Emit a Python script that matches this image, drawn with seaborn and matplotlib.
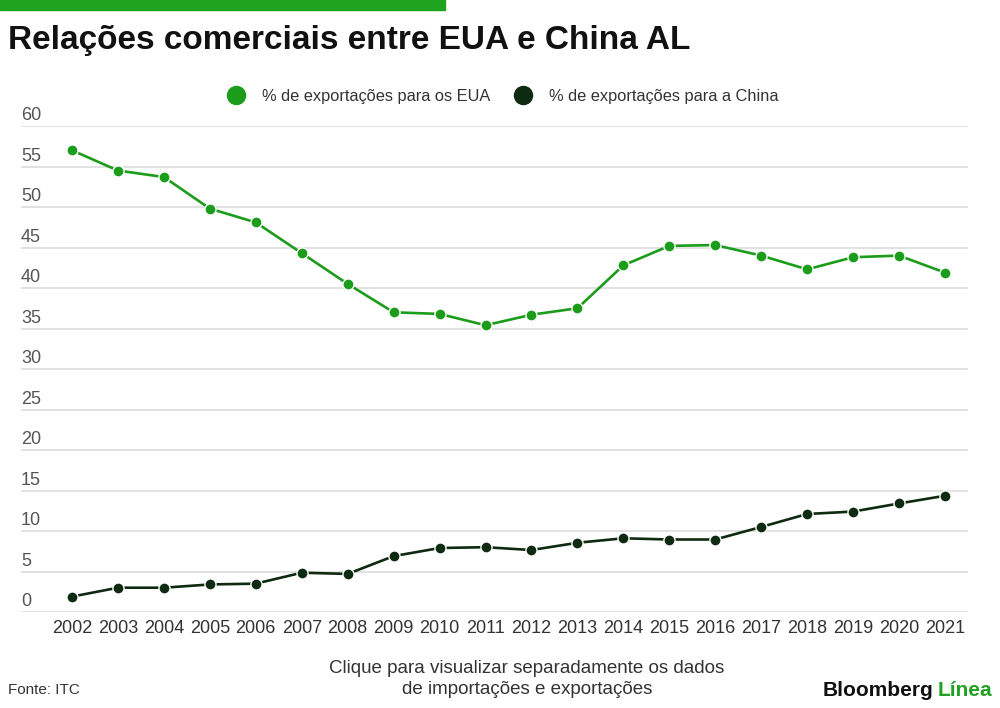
import matplotlib
matplotlib.use("Agg")
import matplotlib.pyplot as plt
from matplotlib.lines import Line2D
from matplotlib.patches import Rectangle
from matplotlib.transforms import offset_copy
import pandas as pd
import seaborn as sns

anos = list(range(2002, 2022))
eua = [57.0, 54.5, 53.7, 49.8, 48.1, 44.3, 40.5, 37.0, 36.8, 35.4,
       36.7, 37.5, 42.8, 45.2, 45.3, 44.0, 42.3, 43.8, 44.0, 41.9]
china = [1.9, 3.0, 3.0, 3.4, 3.5, 4.85, 4.7, 6.9, 7.9, 8.0,
         7.65, 8.55, 9.1, 8.95, 8.95, 10.5, 12.1, 12.4, 13.4, 14.35]
series = ["% de exportações para os EUA", "% de exportações para a China"]
yticks = [0, 5, 10, 15, 20, 25, 30, 35, 40, 45, 50, 55, 60]

verde = "#1b9c1b"
escuro = "#0e2a10"

sns.set_theme(style="white")
plt.rcParams["font.family"] = ["Liberation Sans", "DejaVu Sans"]

df = pd.DataFrame({"ano": anos * 2,
                   "valor": eua + china,
                   "serie": [series[0]] * len(anos) + [series[1]] * len(anos)})

fig = plt.figure(figsize=(10, 7.08), dpi=100)
ax = fig.add_axes([0.021, 1 - 612 / 708, 0.947, (612 - 126) / 708])

sns.lineplot(data=df, x="ano", y="valor", hue="serie", palette=[verde, escuro],
             marker="o", markersize=8, markeredgecolor="white", markeredgewidth=1,
             linewidth=1.9, legend=False, ax=ax, zorder=3)

ax.set_xlim(2000.89, 2021.5)
ax.set_ylim(0, 60)
ax.set_yticks(yticks)
ax.set_yticklabels([])
ax.tick_params(axis="y", length=0)
ax.set_xticks(anos)
ax.set_xticklabels([str(a) for a in anos], fontsize=13, color="#333333")
ax.tick_params(axis="x", length=0, pad=6)
ax.set_xlabel("")
ax.set_ylabel("")
ax.grid(axis="y", color="#dcdcdc", linewidth=1.2)
ax.grid(axis="x", visible=False)
for s in ax.spines.values():
    s.set_visible(False)

lbl_tr = offset_copy(ax.get_yaxis_transform(), fig=fig, x=0, y=2, units="dots")
for v in yticks:
    ax.text(0, v, str(v), transform=lbl_tr, ha="left", va="bottom",
            fontsize=13, color="#555555")

# barra verde e titulo
fig.patches.append(Rectangle((0, 1 - 10 / 708), 0.445, 10 / 708,
                             transform=fig.transFigure, color="#1da31d"))
fig.text(0.008, 1 - 41 / 708, "Relações comerciais entre EUA e China AL",
         fontsize=24, fontweight="bold", color="#111111", va="center", ha="left")

handles = [Line2D([], [], marker="o", linestyle="none", markersize=13, color=c)
           for c in (verde, escuro)]
fig.legend(handles, series, loc="center", bbox_to_anchor=(0.499, 1 - 96 / 708),
           ncol=2, frameon=False, fontsize=11.8, handletextpad=0.6,
           columnspacing=1.0, labelcolor="#333333")

# rodape
fig.text(0.008, 1 - 690 / 708, "Fonte: ITC", fontsize=11, color="#333333",
         va="center", ha="left")
fig.text(0.527, 1 - 679 / 708,
         "Clique para visualizar separadamente os dados\nde importações e exportações",
         fontsize=13.5, color="#333333", va="center", ha="center", linespacing=1.35)
t1 = fig.text(0.823, 1 - 690 / 708, "Bloomberg", fontsize=15, fontweight="bold",
              color="#111111", va="center", ha="left")
plt.annotate("Línea", xy=(1, 0.5), xycoords=t1, xytext=(3, 0),
             textcoords="offset points", fontsize=15, fontweight="bold",
             color="#21a121", va="center", ha="left")

fig.savefig("out.png", dpi=100)
